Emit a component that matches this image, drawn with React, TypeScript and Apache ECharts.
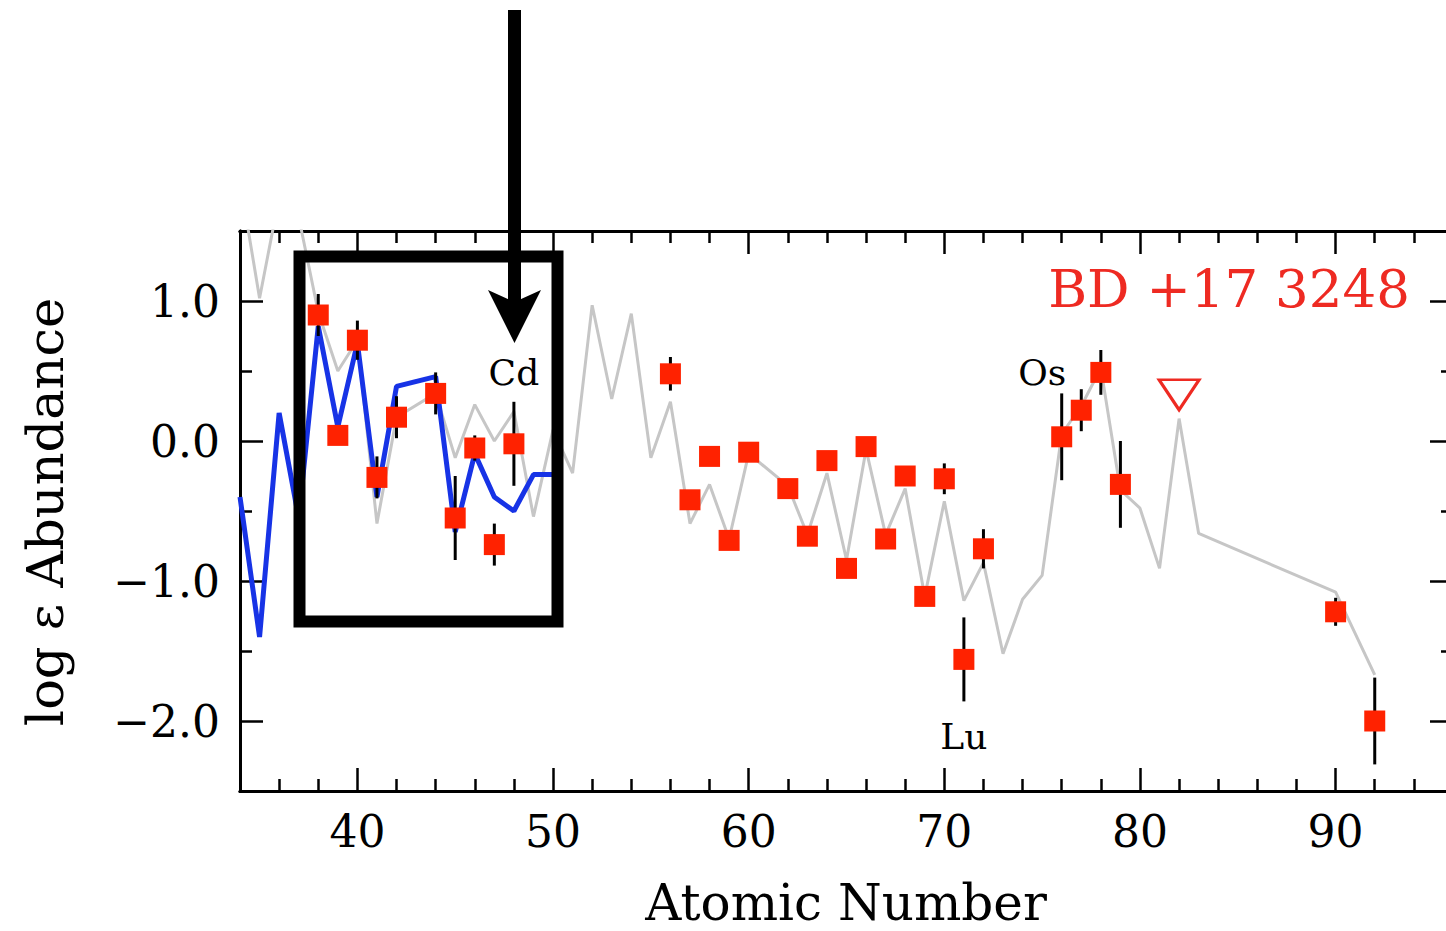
import React, { useEffect, useRef } from "react";
import * as echarts from "echarts";

// Scaled solar-system abundance curve (gray), by atomic number
const solarZ = [34, 35, 36, 37, 38, 39, 40, 41, 42, 44, 45, 46, 47, 48, 49, 50, 51, 52, 53, 54, 55, 56, 57, 58, 59, 60, 62, 63, 64, 65, 66, 67, 68, 69, 70, 71, 72, 73, 74, 75, 76, 77, 78, 79, 80, 81, 82, 83, 90, 92];
const solarLogEps = [1.86, 1.02, 1.74, 1.6, 0.92, 0.5, 0.72, -0.59, 0.17, 0.34, -0.12, 0.26, 0.0, 0.21, -0.54, 0.08, -0.23, 0.97, 0.3, 0.91, -0.12, 0.28, -0.59, -0.31, -0.7, -0.09, -0.32, -0.67, -0.23, -0.85, -0.06, -0.67, -0.34, -1.11, -0.43, -1.14, -0.87, -1.52, -1.13, -0.96, 0.05, 0.25, 0.52, -0.35, -0.48, -0.91, 0.16, -0.66, -1.08, -1.67];

// Light-element pattern (blue), Z = 34..50
const lightZ = [34, 35, 36, 37, 38, 39, 40, 41, 42, 44, 45, 46, 47, 48, 49, 50];
const lightLogEps = [-0.4, -1.4, 0.2, -0.55, 0.82, 0.1, 0.7, -0.4, 0.39, 0.46, -0.65, -0.09, -0.4, -0.5, -0.24, -0.24];

// Observed abundances with uncertainties
const obsZ = [38, 39, 40, 41, 42, 44, 45, 46, 47, 48, 56, 57, 58, 59, 60, 62, 63, 64, 65, 66, 67, 68, 69, 70, 71, 72, 76, 77, 78, 79, 90, 92];
const obsLogEps = [0.9, 0.04, 0.72, -0.26, 0.17, 0.34, -0.55, -0.05, -0.74, -0.02, 0.48, -0.42, -0.11, -0.71, -0.08, -0.34, -0.68, -0.14, -0.91, -0.04, -0.7, -0.25, -1.11, -0.27, -1.56, -0.77, 0.03, 0.22, 0.49, -0.31, -1.22, -2.0];
const obsErr = [0.15, 0.05, 0.14, 0.15, 0.15, 0.15, 0.3, 0.09, 0.15, 0.3, 0.12, 0.05, 0.05, 0.05, 0.05, 0.05, 0.05, 0.05, 0.05, 0.05, 0.05, 0.05, 0.05, 0.11, 0.3, 0.14, 0.31, 0.15, 0.16, 0.31, 0.1, 0.31];

// Upper limit (Pb)
const limitZ = [82];
const limitLogEps = [0.33];

// Element tags
const tagNames = ["Cd", "Os", "Lu"];
const tagZ = [48, 75, 71];
const tagLogEps = [0.49, 0.49, -2.11];

const xMajorTicks = [40, 50, 60, 70, 80, 90];
const xMinorTicks = [36, 38, 42, 44, 46, 48, 52, 54, 56, 58, 62, 64, 66, 68, 72, 74, 76, 78, 82, 84, 86, 88, 92, 94];
const yMajorTicks = [-2, -1, 0, 1];
const yMinorTicks = [-1.5, -0.5, 0.5];

const FONT = "DejaVu Serif";
const X_MIN = 34;
const X_MAX = 96;
const Y_MIN = -2.5;
const Y_MAX = 1.5;

const fmtY = (v: number) => (v < 0 ? "\u2212" + Math.abs(v).toFixed(1) : v.toFixed(1));

function xAxisDef(position: "top" | "bottom", ticks: number[], len: number, labels: boolean) {
  return {
    type: "value",
    position,
    min: X_MIN,
    max: X_MAX,
    axisLine: { show: true, onZero: false, lineStyle: { color: "#000", width: 3 } },
    axisTick: { show: true, inside: true, length: len, customValues: ticks, lineStyle: { color: "#000", width: 2.5 } },
    axisLabel: labels
      ? { show: true, customValues: ticks, fontSize: 44, fontFamily: FONT, color: "#000", margin: 18 }
      : { show: false },
    splitLine: { show: false },
  };
}

function yAxisDef(position: "left" | "right", ticks: number[], len: number, labels: boolean) {
  return {
    type: "value",
    position,
    min: Y_MIN,
    max: Y_MAX,
    axisLine: { show: true, onZero: false, lineStyle: { color: "#000", width: 3 } },
    axisTick: { show: true, inside: true, length: len, customValues: ticks, lineStyle: { color: "#000", width: 2.5 } },
    axisLabel: labels
      ? { show: true, customValues: ticks, fontSize: 44, fontFamily: FONT, color: "#000", margin: 20, formatter: fmtY }
      : { show: false },
    splitLine: { show: false },
  };
}

export default function App() {
  const ref = useRef<HTMLDivElement>(null);

  useEffect(() => {
    if (!ref.current) return;
    const chart = echarts.init(ref.current, null, { renderer: "svg" });

    const solarData = solarZ.map((z, i) => [z, solarLogEps[i]]);
    const lightData = lightZ.map((z, i) => [z, lightLogEps[i]]);
    const obsData = obsZ.map((z, i) => [z, obsLogEps[i]]);
    const errData = obsZ.map((z, i) => [z, obsLogEps[i] - obsErr[i], obsLogEps[i] + obsErr[i]]);
    const limitData = limitZ.map((z, i) => [z, limitLogEps[i]]);
    const tagData = tagZ.map((z, i) => [z, tagLogEps[i], tagNames[i]]);

    chart.setOption({
      animation: false,
      backgroundColor: "#fff",
      grid: { left: 240, top: 231, right: -7, bottom: 140, outerBoundsMode: "none", containLabel: false },
      xAxis: [
        xAxisDef("bottom", xMajorTicks, 23, true),
        xAxisDef("bottom", xMinorTicks, 12, false),
        xAxisDef("top", xMajorTicks, 23, false),
        xAxisDef("top", xMinorTicks, 12, false),
      ],
      yAxis: [
        yAxisDef("left", yMajorTicks, 23, true),
        yAxisDef("left", yMinorTicks, 12, false),
        yAxisDef("right", yMajorTicks, 23, false),
        yAxisDef("right", yMinorTicks, 12, false),
      ],
      series: [
        {
          type: "line",
          data: solarData,
          symbol: "none",
          clip: true,
          lineStyle: { color: "#c6c6c6", width: 3 },
          z: 1,
        },
        {
          type: "line",
          data: lightData,
          symbol: "none",
          clip: true,
          lineStyle: { color: "#1733e6", width: 5 },
          z: 2,
        },
        {
          type: "custom",
          data: errData,
          z: 3,
          renderItem: (params: any, api: any) => {
            const lo = api.coord([api.value(0), api.value(1)]);
            const hi = api.coord([api.value(0), api.value(2)]);
            return {
              type: "line",
              shape: { x1: lo[0], y1: lo[1], x2: hi[0], y2: hi[1] },
              style: { stroke: "#000", lineWidth: 3 },
            };
          },
        },
        {
          type: "scatter",
          data: obsData,
          symbol: "rect",
          symbolSize: 21,
          itemStyle: { color: "#ff2200", opacity: 1 },
          z: 4,
        },
        {
          type: "scatter",
          data: limitData,
          symbol: "triangle",
          symbolRotate: 180,
          symbolSize: [40, 30],
          itemStyle: { color: "#fff", borderColor: "#ee2a22", borderWidth: 3, opacity: 1 },
          z: 4,
        },
        {
          type: "scatter",
          data: tagData,
          symbolSize: 0,
          z: 5,
          itemStyle: { opacity: 1 },
          label: {
            show: true,
            position: "inside",
            formatter: (p: any) => p.value[2],
            fontFamily: FONT,
            fontSize: 36,
            color: "#000",
            opacity: 1,
          },
        },
      ],
      graphic: [
        {
          type: "rect",
          z: 100,
          shape: { x: 299.5, y: 256.5, width: 258, height: 365 },
          style: { fill: "none", stroke: "#000", lineWidth: 12 },
        },
        {
          type: "rect",
          z: 100,
          shape: { x: 508, y: 10, width: 13, height: 292 },
          style: { fill: "#000" },
        },
        {
          type: "polygon",
          z: 100,
          shape: { points: [[488, 290], [514.5, 343], [541, 290], [514.5, 302]] },
          style: { fill: "#000" },
        },
        {
          type: "text",
          z: 100,
          x: 1410,
          y: 288,
          style: {
            text: "BD +17 3248",
            fontFamily: FONT,
            fontSize: 53,
            fill: "#ee2a22",
            align: "right",
            verticalAlign: "middle",
          },
        },
        {
          type: "text",
          z: 100,
          x: 846,
          y: 903,
          style: {
            text: "Atomic Number",
            fontFamily: FONT,
            fontSize: 50,
            fill: "#000",
            align: "center",
            verticalAlign: "middle",
          },
        },
        {
          type: "text",
          z: 100,
          x: 45,
          y: 512,
          rotation: Math.PI / 2,
          style: {
            text: "log \u03b5 Abundance",
            fontFamily: FONT,
            fontSize: 51,
            fill: "#000",
            align: "center",
            verticalAlign: "middle",
          },
        },
      ],
    });

    return () => chart.dispose();
  }, []);

  return (
    <div
      ref={ref}
      style={{ position: "absolute", left: 0, top: 0, width: 1446, height: 931, overflow: "hidden" }}
    />
  );
}
